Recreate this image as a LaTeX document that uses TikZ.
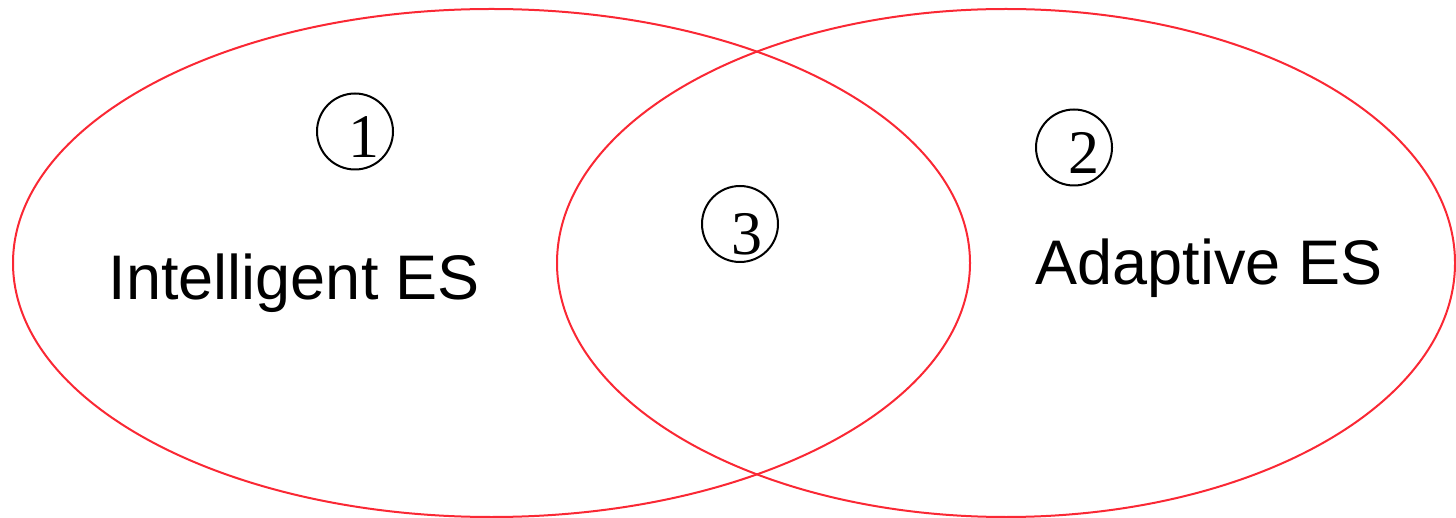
\documentclass[tikz,border=0pt]{standalone}
\usepackage{fontspec}
\setmainfont{Liberation Sans}
\newfontfamily\digitfont{Liberation Serif}
\definecolor{vennred}{RGB}{250,40,52}
\begin{document}
\begin{tikzpicture}[x=1pt,y=-1pt,
  setshape/.style={draw=vennred,line width=2pt},
  numcirc/.style={draw=black,line width=2pt,circle,minimum size=76pt,inner sep=0pt},
  digit/.style={inner sep=0pt,font=\digitfont\fontsize{62}{64}\selectfont},
  label/.style={inner sep=0pt,anchor=base,font=\fontsize{63}{70}\selectfont}]
\useasboundingbox (0,0) rectangle (1456,518);
\draw[setshape] (491.5,263) ellipse [x radius=478.5,y radius=254];
\draw[setshape] (1006,263) ellipse [x radius=449,y radius=254];
\node[numcirc] (c1) at (355,131.5) {};
\node[digit] (d1) at (364,137) {1};
\node[numcirc] (c2) at (1074,147.5) {};
\node[digit] (d2) at (1084,153) {2};
\node[numcirc] (c3) at (740,224) {};
\node[digit] (d3) at (747,234) {3};
\node[label] (l1) at (294.5,300) {Intelligent ES};
\node[label] (l2) at (1209,285) {Adaptive ES};
\end{tikzpicture}
\end{document}
